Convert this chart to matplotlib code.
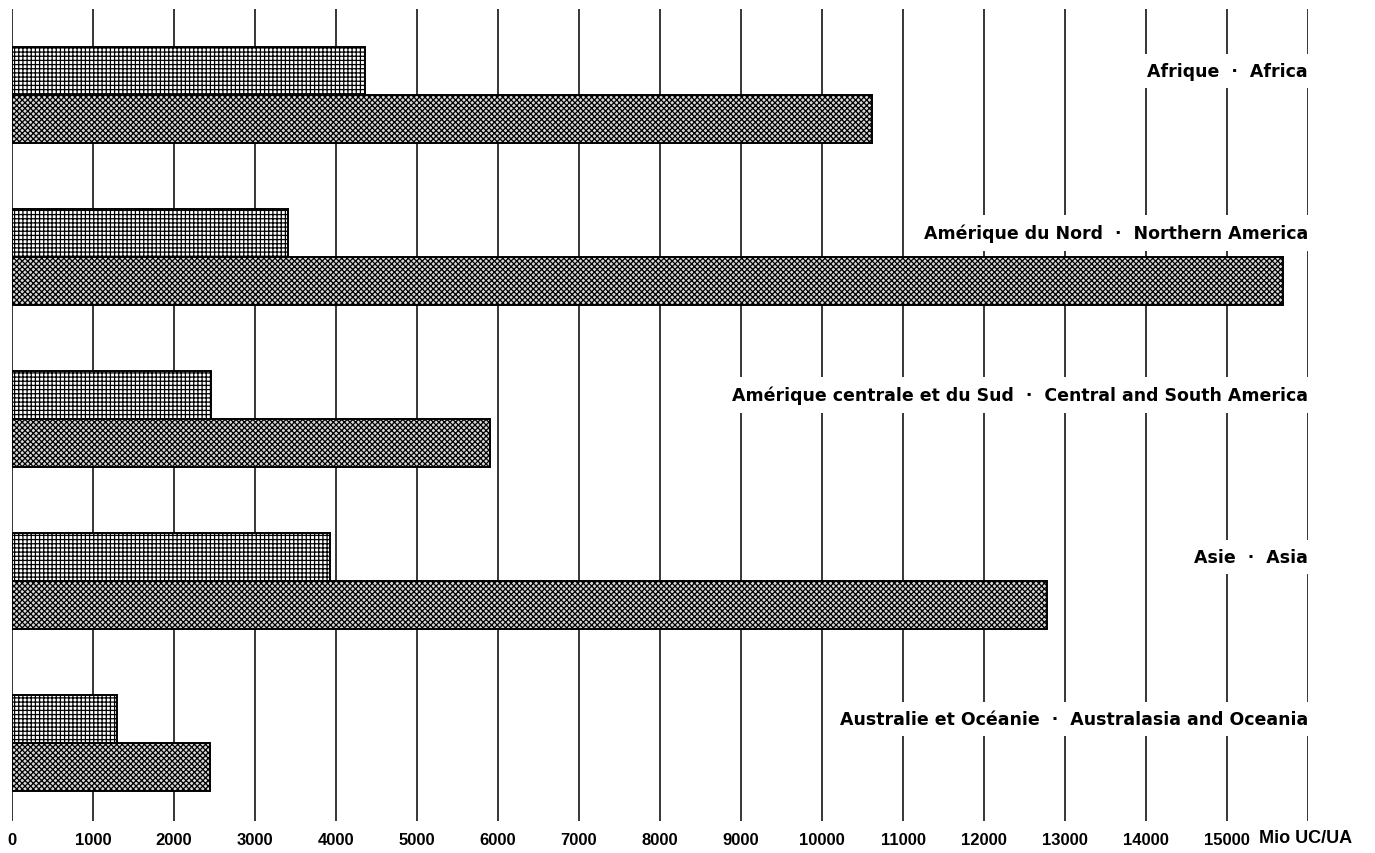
import matplotlib
matplotlib.use("Agg")
import matplotlib.pyplot as plt
import numpy as np

plt.rcParams['font.family'] = ['Liberation Sans Narrow', 'Liberation Sans', 'DejaVu Sans']
plt.rcParams['hatch.linewidth'] = 0.9

regions = ['Afrique  ·  Africa',
           'Amérique du Nord  ·  Northern America',
           'Amérique centrale et du Sud  ·  Central and South America',
           'Asie  ·  Asia',
           'Australie et Océanie  ·  Australasia and Oceania']
values_grid = [4360, 3410, 2460, 3930, 1300]
values_dense = [10620, 15690, 5900, 12780, 2440]
ticks = list(range(0, 16001, 1000))
tick_labels = [str(t) for t in ticks[:-2]] + ['15000', '']
unit = 'Mio UC/UA'

fig = plt.figure(figsize=(13.75, 8.54), dpi=100)
ax = fig.add_axes([12/1375, 32/854, 1296/1375, 812/854])

y = np.arange(len(regions))
h = 0.296
ax.barh(y - h/2, values_grid, height=h, color='white', edgecolor='black',
        linewidth=1.4, hatch='++++', zorder=3)
ax.barh(y + h/2, values_dense, height=h, color='#d8d8d8', edgecolor='black',
        linewidth=1.4, hatch='xxxxxx', zorder=3)

for i, name in enumerate(regions):
    ax.text(16000, i - h/2, name, ha='right', va='center', fontsize=12.5,
            fontweight='bold', family=['DejaVu Sans'],
            bbox=dict(facecolor='white', edgecolor='none', pad=6), zorder=4)

ax.set_xlim(0, 16000)
ax.set_ylim(4.481, -0.531)
ax.set_xticks(ticks)
ax.set_xticklabels(tick_labels, fontsize=12, fontweight='bold')
ax.set_yticks([])
ax.tick_params(axis='x', length=0, pad=8)
ax.grid(axis='x', color='black', linewidth=1.1, zorder=0)
ax.set_axisbelow(True)
for s in ax.spines.values():
    s.set_visible(False)

# unit label sits next to the 15000 tick, on the tick-label baseline
ax.text(15400, 4.481 + 8/162, unit, ha='left', va='top',
        fontsize=13, fontweight='bold', clip_on=False)

fig.savefig('out.png', dpi=100)
